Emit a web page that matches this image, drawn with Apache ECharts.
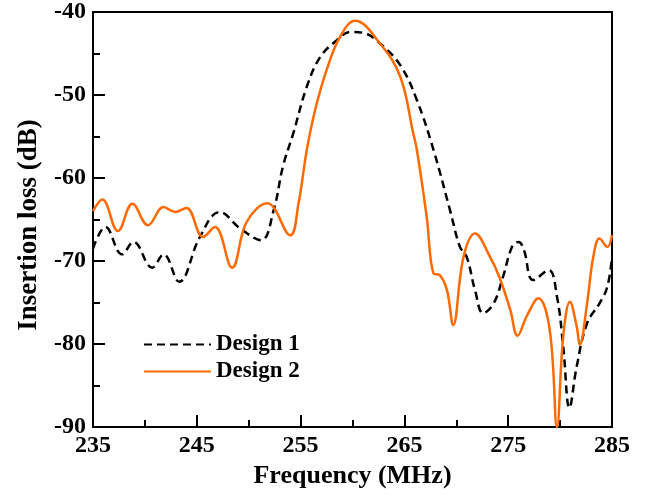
<!DOCTYPE html>
<html>
<head>
<meta charset="utf-8">
<script src="https://cdn.jsdelivr.net/npm/echarts@6/dist/echarts.min.js"></script>
<style>
  html, body { margin: 0; padding: 0; background: #fff; }
  #chart { width: 647px; height: 496px; }
</style>
</head>
<body>
<div id="chart"></div>
<script>
// frequency (MHz) / insertion loss (dB)
const design1Freq = [235.0, 236.2, 237.8, 238.9, 240.7, 241.8, 243.3, 245.3, 247.2, 249.2, 251.2, 252.4, 253.3, 254.3, 255.6, 256.9, 258.5, 259.8, 261.0, 262.65, 264.6, 266.2, 267.8, 269.4, 270.35, 271.0, 271.8, 272.6, 273.6, 274.5, 275.4, 276.0, 276.5, 277.4, 278.9, 279.7, 280.3, 280.9, 281.6, 282.6, 283.8, 284.55, 285.0];
const design1Loss = [-68.5, -65.9, -69.2, -67.7, -70.8, -69.2, -72.5, -67.1, -64.1, -66.1, -67.5, -63.9, -58.6, -54.6, -49.0, -45.4, -43.4, -42.4, -42.5, -43.8, -46.4, -50.6, -56.6, -63.9, -68.3, -69.5, -73.5, -76.3, -75.1, -71.9, -68.2, -67.7, -68.6, -72.3, -71.1, -74.3, -80.3, -87.7, -82.7, -77.5, -75.1, -73.1, -69.5];

const design2Freq = [235.0, 235.9, 237.4, 238.8, 240.3, 241.8, 242.9, 244.0, 245.6, 246.75, 248.4, 249.8, 251.8, 254.0, 254.8, 255.6, 256.4, 257.5, 258.8, 260.24, 262.65, 264.6, 265.85, 266.2, 267.15, 267.8, 268.4, 269.1, 269.7, 270.7, 271.8, 273.25, 274.2, 275.2, 275.9, 276.8, 277.9, 279.0, 279.7, 280.3, 280.95, 281.6, 281.9, 282.6, 283.2, 283.8, 284.55, 285.0];
const design2Loss = [-64.0, -62.6, -66.4, -63.1, -65.7, -63.5, -64.1, -63.6, -67.1, -65.9, -70.8, -65.3, -63.05, -66.9, -63.05, -56.6, -51.8, -47.0, -43.0, -41.05, -43.8, -47.8, -54.6, -56.6, -64.7, -71.5, -71.7, -73.5, -77.7, -69.5, -66.7, -69.5, -72.1, -75.9, -79.0, -76.6, -74.5, -78.3, -90.0, -79.1, -74.9, -77.9, -80.1, -75.1, -69.5, -67.3, -68.3, -66.9];

const seriesNames = ["Design 1", "Design 2"];

const font = "'Liberation Serif', 'Times New Roman', serif";
const chart = echarts.init(document.getElementById("chart"));

const zip = (xs, ys) => xs.map((x, i) => [x, ys[i]]);

const option = {
  animation: false,
  grid: {
    left: 93,
    right: 35,
    top: 12,
    bottom: 69,
    show: true,
    borderColor: "#000",
    borderWidth: 2,
  },
  legend: {
    left: 143,
    top: 333,
    padding: 0,
    orient: "vertical",
    itemWidth: 67,
    itemHeight: 10,
    itemGap: 4,
    itemStyle: { opacity: 0 },
    textStyle: { fontFamily: font, fontWeight: "bold", fontSize: 23, color: "#000" },
    data: seriesNames,
  },
  xAxis: {
    type: "value",
    min: 235,
    max: 285,
    interval: 10,
    name: "Frequency (MHz)",
    nameLocation: "middle",
    nameGap: 34,
    nameTextStyle: { fontFamily: font, fontWeight: "bold", fontSize: 26, color: "#000" },
    axisLine: { lineStyle: { color: "#000", width: 2 } },
    axisTick: { inside: true, length: 12, lineStyle: { color: "#000", width: 2 } },
    minorTick: { show: true, splitNumber: 2, length: 7, lineStyle: { color: "#000", width: 2 } },
    axisLabel: { fontFamily: font, fontWeight: "bold", fontSize: 24, color: "#000", margin: 7 },
    splitLine: { show: false },
  },
  yAxis: {
    type: "value",
    min: -90,
    max: -40,
    interval: 10,
    name: "Insertion loss (dB)",
    nameLocation: "middle",
    nameGap: 50,
    nameTextStyle: { fontFamily: font, fontWeight: "bold", fontSize: 27, color: "#000", padding: [0, 11, 0, 0] },
    axisLine: { lineStyle: { color: "#000", width: 2 } },
    axisTick: { inside: true, length: 12, lineStyle: { color: "#000", width: 2 } },
    minorTick: { show: true, splitNumber: 2, length: 7, lineStyle: { color: "#000", width: 2 } },
    axisLabel: { fontFamily: font, fontWeight: "bold", fontSize: 24, color: "#000", margin: 7 },
    splitLine: { show: false },
  },
  series: [
    {
      name: seriesNames[0],
      type: "line",
      data: zip(design1Freq, design1Loss),
      smooth: 0.4,
      symbol: "none",
      color: "#000",
      lineStyle: { color: "#000", width: 2.5, type: [8, 5] },
    },
    {
      name: seriesNames[1],
      type: "line",
      data: zip(design2Freq, design2Loss),
      smooth: 0.4,
      symbol: "none",
      color: "#ff6a00",
      lineStyle: { color: "#ff6a00", width: 2.5 },
    },
  ],
};

chart.setOption(option);
</script>
</body>
</html>
